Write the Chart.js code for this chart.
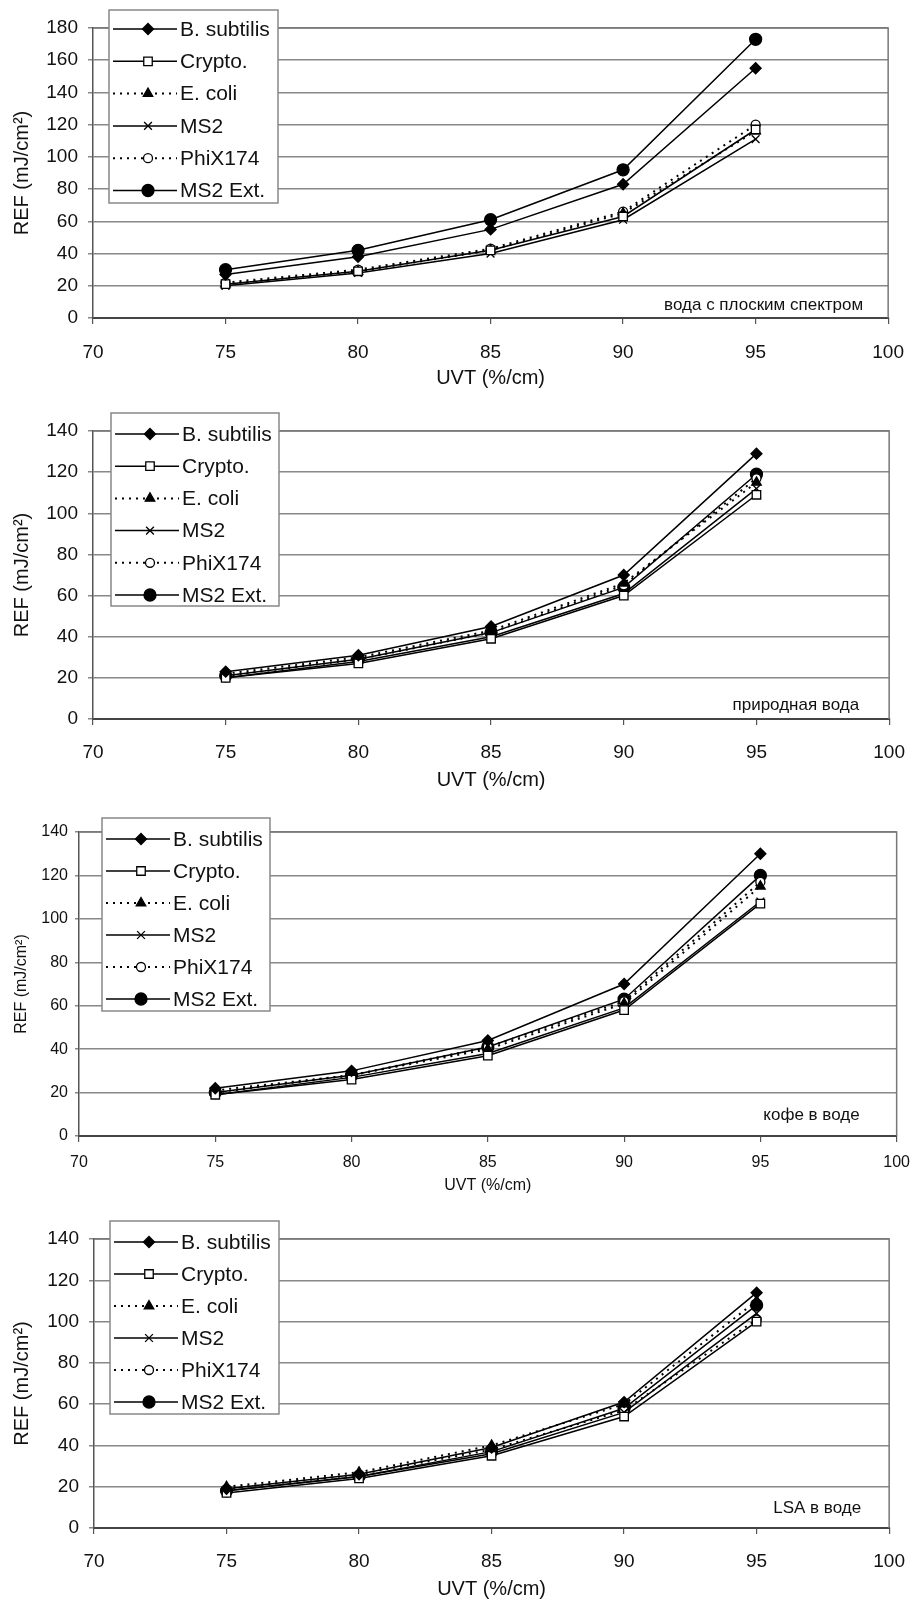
<!DOCTYPE html>
<html>
<head>
<meta charset="utf-8">
<title>REF vs UVT</title>
<script src="https://cdn.jsdelivr.net/npm/chart.js@4/dist/chart.umd.min.js"></script>
<style>
  html, body { margin: 0; padding: 0; background: #fff; }
  .panel { position: absolute; left: 0; width: 921px; }
</style>
</head>
<body>
<div class="panel" style="top:0px"><canvas id="chart1" width="921" height="395"></canvas></div>
<div class="panel" style="top:395px"><canvas id="chart2" width="921" height="400"></canvas></div>
<div class="panel" style="top:795px"><canvas id="chart3" width="921" height="400"></canvas></div>
<div class="panel" style="top:1195px"><canvas id="chart4" width="921" height="406"></canvas></div>
<script>
// UVT values (%/cm) where REF was measured
const uvt = [75, 80, 85, 90, 95];
const seriesNames = ['B. subtilis', 'Crypto.', 'E. coli', 'MS2', 'PhiX174', 'MS2 Ext.'];
const panelNotes = ['вода с плоским спектром', 'природная вода', 'кофе в воде', 'LSA в воде'];

// REF (mJ/cm2), one row per series, in seriesNames order
const flatSpectrum = [
    [27, 38, 55, 83, 155],
    [21, 29, 42, 63, 117],
    [21, 29, 42, 65, 116],
    [20, 28, 40, 61, 111],
    [22, 30, 43, 66, 120],
    [30, 42, 61, 92, 173]
];
const naturalWater = [
    [23, 31, 45, 70, 129],
    [20, 27, 39, 60, 109],
    [22, 30, 43, 66, 115],
    [20, 28, 40, 61, 112],
    [21, 29, 42, 65, 117],
    [21, 29, 42, 64, 119]
];
const coffeeWater = [
    [22, 30, 44, 70, 130],
    [19, 26, 37, 58, 107],
    [20, 28, 40, 61, 115],
    [19, 27, 38, 59, 108],
    [21, 28, 41, 62, 117],
    [20, 28, 41, 63, 120]
];
const lsaWater = [
    [19, 26, 39, 61, 114],
    [17, 24, 35, 54, 100],
    [20, 27, 40, 60, 110],
    [18, 25, 36, 56, 104],
    [19, 26, 38, 57, 101],
    [18, 25, 37, 58, 108]
];
const yMaxes = [180, 140, 140, 140];

const FONT = "'Liberation Sans', Arial, sans-serif";
const INK = '#111';

// marker / line look of each series
const looks = [
    { pointStyle: 'rectRot', radius: 5.5, fill: '#000', dash: [] },
    { pointStyle: 'rect', radius: 6, fill: '#fff', dash: [] },
    { pointStyle: 'triangle', radius: 5.5, fill: '#000', dash: [2, 5] },
    { pointStyle: 'crossRot', radius: 5.5, fill: '#000', dash: [] },
    { pointStyle: 'circle', radius: 4.5, fill: '#fff', dash: [2, 5] },
    { pointStyle: 'circle', radius: 6, fill: '#000', dash: [] }
];

// top and right edge of the plot frame
const framePlugin = {
    id: 'frame',
    beforeDatasetsDraw(chart) {
        const { ctx, chartArea: a } = chart;
        ctx.save();
        ctx.strokeStyle = '#777';
        ctx.lineWidth = 1.5;
        ctx.beginPath();
        ctx.moveTo(a.left, a.top);
        ctx.lineTo(a.right, a.top);
        ctx.lineTo(a.right, a.bottom);
        ctx.stroke();
        ctx.restore();
    }
};

// label in lower right corner of the plot
const notePlugin = {
    id: 'note',
    afterDatasetsDraw(chart, args, o) {
        const { ctx, chartArea: a } = chart;
        ctx.save();
        ctx.font = o.size + 'px ' + FONT;
        ctx.fillStyle = INK;
        ctx.textAlign = 'right';
        ctx.textBaseline = 'middle';
        ctx.fillText(o.text, a.right - o.dx, a.bottom - o.dy);
        ctx.restore();
    }
};

// boxed legend, line sample with the marker in its middle
const keyPlugin = {
    id: 'key',
    afterDraw(chart, args, o) {
        const ctx = chart.ctx;
        const [bx, by, bw, bh] = o.box;
        ctx.save();
        ctx.fillStyle = '#fff';
        ctx.fillRect(bx, by, bw, bh);
        ctx.strokeStyle = '#888';
        ctx.lineWidth = 1.5;
        ctx.strokeRect(bx, by, bw, bh);
        chart.data.datasets.forEach((ds, i) => {
            const y = by + o.first + i * o.step;
            ctx.strokeStyle = '#000';
            ctx.lineWidth = ds.borderWidth;
            ctx.setLineDash(ds.borderDash);
            ctx.beginPath();
            ctx.moveTo(bx + 4, y);
            ctx.lineTo(bx + 68, y);
            ctx.stroke();
            ctx.setLineDash([]);
            ctx.fillStyle = ds.pointBackgroundColor;
            ctx.strokeStyle = '#000';
            ctx.lineWidth = ds.pointBorderWidth;
            if (Chart.helpers && Chart.helpers.drawPoint) {
                Chart.helpers.drawPoint(ctx, {
                    pointStyle: ds.pointStyle, radius: ds.pointRadius,
                    rotation: 0, borderWidth: ds.pointBorderWidth
                }, bx + 39, y);
            }
            ctx.fillStyle = INK;
            ctx.font = o.size + 'px ' + FONT;
            ctx.textAlign = 'left';
            ctx.textBaseline = 'middle';
            ctx.fillText(ds.label, bx + 71, y + 1);
        });
        ctx.restore();
    }
};

function makeChart(id, rows, yMax, note, g) {
    const datasets = rows.map((row, i) => ({
        label: seriesNames[i],
        data: uvt.map((x, j) => ({ x: x, y: row[j] })),
        borderColor: '#000',
        borderWidth: looks[i].dash.length ? 2 : 1.5,
        borderDash: looks[i].dash,
        pointStyle: looks[i].pointStyle,
        pointRadius: looks[i].radius,
        pointBackgroundColor: looks[i].fill,
        pointBorderColor: '#000',
        pointBorderWidth: 1.3,
        tension: 0
    }));
    return new Chart(document.getElementById(id), {
        type: 'line',
        data: { datasets: datasets },
        plugins: [framePlugin, notePlugin, keyPlugin],
        options: {
            responsive: false,
            animation: false,
            devicePixelRatio: 1,
            layout: { padding: { top: g.top, right: 921 - g.right, left: 0, bottom: 0 } },
            plugins: {
                legend: { display: false },
                tooltip: { enabled: false },
                note: { text: note, size: g.noteSize, dx: g.noteDx, dy: g.noteDy },
                key: { box: g.box, first: g.first, step: g.step, size: 21 }
            },
            scales: {
                x: {
                    type: 'linear',
                    min: 70,
                    max: 100,
                    ticks: { stepSize: 5, color: INK, font: { family: FONT, size: g.tick }, padding: g.xPad, maxRotation: 0 },
                    grid: { drawOnChartArea: false, drawTicks: true, tickLength: 6, color: '#555', lineWidth: 1.2 },
                    border: { color: '#444', width: 2 },
                    title: { display: true, text: 'UVT (%/cm)', color: INK, font: { family: FONT, size: g.title }, padding: { top: 0, bottom: g.xTitlePad } },
                    afterFit(s) { s.height = g.xH; }
                },
                y: {
                    min: 0,
                    max: yMax,
                    ticks: { stepSize: 20, color: INK, font: { family: FONT, size: g.tick }, padding: g.yPad },
                    grid: { color: '#888', lineWidth: 1.5, tickLength: g.yTl, drawTicks: true },
                    border: { color: '#555', width: 1.5 },
                    title: { display: true, text: 'REF (mJ/cm²)', color: INK, font: { family: FONT, size: g.title }, padding: { top: g.yTitlePad, bottom: 0 } },
                    afterFit(s) { s.width = g.left; }
                }
            }
        }
    });
}

makeChart('chart1', flatSpectrum, yMaxes[0], panelNotes[0], {
    top: 28, left: 93, right: 902, xH: 77, tick: 19, title: 20,
    xPad: 17, xTitlePad: 5, yPad: 10, yTl: 5, yTitlePad: 10,
    box: [109, 10, 169, 193], first: 19, step: 32.3,
    noteSize: 17, noteDx: 25, noteDy: 13
});
makeChart('chart2', naturalWater, yMaxes[1], panelNotes[1], {
    top: 36, left: 93, right: 903, xH: 76, tick: 19, title: 20,
    xPad: 16, xTitlePad: 3, yPad: 10, yTl: 5, yTitlePad: 10,
    box: [111, 18, 168, 193], first: 21, step: 32.2,
    noteSize: 17, noteDx: 30, noteDy: 14
});
makeChart('chart3', coffeeWater, yMaxes[2], panelNotes[2], {
    top: 37, left: 79, right: 907, xH: 59, tick: 16, title: 16,
    xPad: 11, xTitlePad: 0, yPad: 7, yTl: 4, yTitlePad: 12,
    box: [102, 23, 168, 193], first: 21, step: 32,
    noteSize: 17, noteDx: 37, noteDy: 21
});
makeChart('chart4', lsaWater, yMaxes[3], panelNotes[3], {
    top: 44, left: 94, right: 903, xH: 73, tick: 19, title: 20,
    xPad: 16, xTitlePad: 0, yPad: 10, yTl: 5, yTitlePad: 10,
    box: [110, 26, 169, 193], first: 21, step: 32,
    noteSize: 17, noteDx: 28, noteDy: 20
});
</script>
</body>
</html>
